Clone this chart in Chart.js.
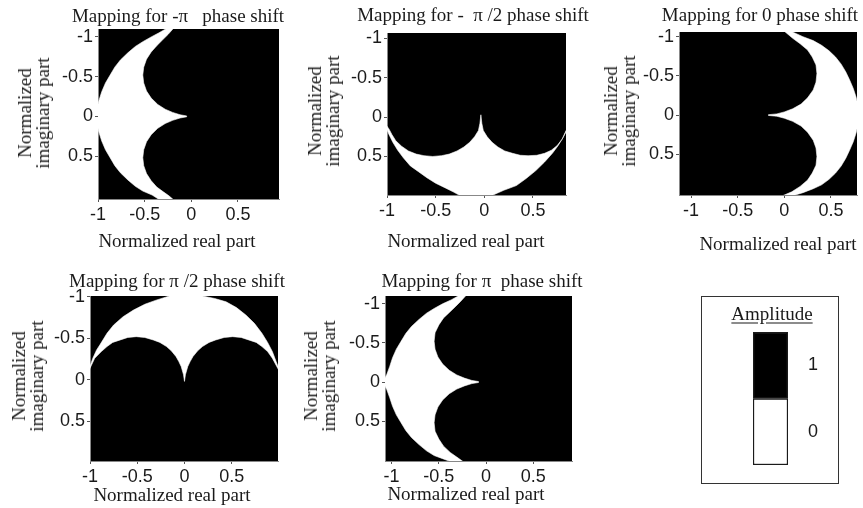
<!DOCTYPE html>
<html>
<head>
<meta charset="utf-8">
<title>Phase shift mappings</title>
<script src="https://cdn.jsdelivr.net/npm/chart.js@4.4.1/dist/chart.umd.min.js"></script>
<style>
  html, body { margin: 0; padding: 0; background: #ffffff; }
  body { position: relative; width: 863px; height: 508px; overflow: hidden;
         font-family: "Liberation Serif", "Times New Roman", serif; color: #1a1a1a; }
  .holder { position: absolute; }
  .holder canvas { display: block; }
  .label { position: absolute; white-space: pre; font-size: 19px; line-height: 19px;
           transform: translate(-50%, -50%); }
  .vlabel { position: absolute; white-space: pre; font-size: 19px; line-height: 18px;
            text-align: center; transform: translate(-50%, -50%) rotate(-90deg); }
  .keytitle { text-decoration: underline; text-underline-offset: 3px; }
  #keyBox { position: absolute; left: 701px; top: 296px; width: 138px; height: 188px;
            border: 1.5px solid #333; box-sizing: border-box; }
</style>
</head>
<body>
<div id="keyBox"></div>
<script>
// Tick marks shared by every panel
const tickValues = [-1, -0.5, 0, 0.5];
const tickLabels = ['-1', '-0.5', '0', '0.5'];

// Panel headings and axis titles
const panelTitles = [
  'Mapping for -\u03c0   phase shift',
  'Mapping for -  \u03c0 /2 phase shift',
  'Mapping for 0 phase shift',
  'Mapping for \u03c0 /2 phase shift',
  'Mapping for \u03c0  phase shift'
];
const xAxisTitle = 'Normalized real part';
const yAxisTitle = 'Normalized\nimaginary part';

// Amplitude key: levels from bottom to top
const amplitudeLevels = [0, 1];
const amplitudeColors = ['#ffffff', '#000000'];
const keyTitle = 'Amplitude';

// Outline of the amplitude-0 (white) region of each panel, as [real, imaginary]
const regionMinusPi = [
  [-0.26, -1.11], [-0.35, -1.05], [-0.43, -1.00], [-0.52, -0.94], [-0.60, -0.88],
  [-0.68, -0.80], [-0.76, -0.71], [-0.82, -0.62], [-0.87, -0.52], [-0.92, -0.42],
  [-0.96, -0.31], [-0.99, -0.20], [-1.01, -0.10], [-1.03, 0.00], [-1.01, 0.10],
  [-0.99, 0.20], [-0.96, 0.31], [-0.92, 0.42], [-0.87, 0.52], [-0.82, 0.62],
  [-0.76, 0.71], [-0.68, 0.80], [-0.60, 0.88], [-0.52, 0.94], [-0.42, 0.99],
  [-0.34, 1.05],
  [-0.19, 1.05], [-0.24, 1.00], [-0.30, 0.95], [-0.37, 0.89], [-0.43, 0.81],
  [-0.48, 0.72], [-0.51, 0.62], [-0.52, 0.52], [-0.51, 0.42], [-0.48, 0.32],
  [-0.43, 0.23], [-0.36, 0.15], [-0.28, 0.09], [-0.20, 0.05], [-0.12, 0.02],
  [-0.05, 0.006], [-0.05, -0.006], [-0.12, -0.02], [-0.20, -0.05], [-0.28, -0.09],
  [-0.36, -0.15], [-0.43, -0.23], [-0.48, -0.32], [-0.51, -0.42], [-0.52, -0.52],
  [-0.51, -0.62], [-0.48, -0.72], [-0.43, -0.81], [-0.37, -0.89], [-0.31, -0.96],
  [-0.25, -1.03], [-0.19, -1.11]
];

const regionMinusHalfPi = [
  [-1.02, 0.10], [-0.98, 0.22], [-0.94, 0.32], [-0.89, 0.42], [-0.83, 0.52],
  [-0.76, 0.62], [-0.68, 0.69], [-0.59, 0.77], [-0.50, 0.84], [-0.40, 0.90],
  [-0.32, 0.95], [-0.26, 0.99], [-0.10, 1.03], [0.09, 0.99], [0.20, 0.93],
  [0.33, 0.87], [0.43, 0.78], [0.53, 0.68], [0.62, 0.57], [0.70, 0.46],
  [0.76, 0.36], [0.81, 0.26], [0.86, 0.14],
  [0.86, 0.12], [0.83, 0.20], [0.80, 0.28], [0.75, 0.36], [0.69, 0.42],
  [0.62, 0.46], [0.54, 0.485], [0.45, 0.49], [0.37, 0.485], [0.29, 0.46],
  [0.21, 0.43], [0.14, 0.38], [0.08, 0.32], [0.03, 0.25], [-0.01, 0.17],
  [-0.025, 0.08], [-0.035, -0.03], [-0.045, 0.08], [-0.06, 0.17], [-0.10, 0.25],
  [-0.15, 0.32], [-0.21, 0.38], [-0.28, 0.43], [-0.36, 0.47], [-0.44, 0.49],
  [-0.53, 0.50], [-0.62, 0.49], [-0.70, 0.47], [-0.78, 0.43], [-0.85, 0.37],
  [-0.91, 0.30], [-0.95, 0.22], [-0.98, 0.15], [-1.02, 0.08]
];

const regionZero = [
  [0.07, -1.07], [0.20, -1.00], [0.31, -0.95], [0.40, -0.89], [0.48, -0.82],
  [0.55, -0.74], [0.61, -0.65], [0.66, -0.55], [0.70, -0.45], [0.74, -0.34],
  [0.77, -0.23], [0.79, -0.12], [0.81, 0.00], [0.79, 0.12], [0.77, 0.23],
  [0.74, 0.34], [0.70, 0.45], [0.66, 0.55], [0.61, 0.65], [0.55, 0.74],
  [0.48, 0.82], [0.40, 0.89], [0.31, 0.94], [0.20, 0.99], [0.09, 1.03],
  [-0.02, 1.03], [0.08, 0.98], [0.17, 0.91], [0.25, 0.83], [0.30, 0.74],
  [0.34, 0.64], [0.35, 0.53], [0.34, 0.42], [0.31, 0.32], [0.25, 0.22],
  [0.18, 0.14], [0.09, 0.08], [0.00, 0.04], [-0.08, 0.015], [-0.17, 0.005],
  [-0.17, -0.005], [-0.08, -0.015], [0.00, -0.04], [0.09, -0.08], [0.18, -0.14],
  [0.25, -0.22], [0.31, -0.32], [0.34, -0.42], [0.35, -0.53], [0.34, -0.64],
  [0.30, -0.74], [0.25, -0.83], [0.17, -0.91], [0.09, -0.98], [0.00, -1.07]
];

const regionHalfPi = [
  [-1.02, -0.10], [-0.97, -0.26], [-0.93, -0.36], [-0.89, -0.43], [-0.82, -0.56],
  [-0.75, -0.66], [-0.65, -0.76], [-0.54, -0.84], [-0.42, -0.91], [-0.30, -0.96],
  [-0.16, -1.01], [0.02, -1.05], [0.19, -1.01], [0.32, -0.98], [0.44, -0.94],
  [0.55, -0.87], [0.65, -0.78], [0.74, -0.68], [0.82, -0.56], [0.88, -0.45],
  [0.93, -0.34], [0.97, -0.22], [1.01, -0.10],
  [1.01, -0.09], [0.93, -0.26], [0.88, -0.34], [0.82, -0.40], [0.76, -0.45],
  [0.68, -0.48], [0.60, -0.51], [0.51, -0.52], [0.42, -0.51], [0.33, -0.48],
  [0.26, -0.45], [0.19, -0.40], [0.14, -0.35], [0.09, -0.28], [0.06, -0.22],
  [0.035, -0.16], [0.01, -0.06], [0.00, 0.02], [-0.01, -0.06], [-0.035, -0.16],
  [-0.06, -0.22], [-0.09, -0.28], [-0.14, -0.35], [-0.19, -0.40], [-0.26, -0.45],
  [-0.33, -0.48], [-0.42, -0.51], [-0.51, -0.52], [-0.60, -0.51], [-0.68, -0.48],
  [-0.76, -0.45], [-0.82, -0.40], [-0.88, -0.34], [-0.95, -0.26], [-1.02, -0.09]
];

const regionPi = [
  [-0.28, -1.11], [-0.37, -1.05], [-0.46, -1.00], [-0.55, -0.94], [-0.63, -0.88],
  [-0.71, -0.80], [-0.79, -0.71], [-0.85, -0.62], [-0.90, -0.52], [-0.95, -0.42],
  [-0.99, -0.31], [-1.02, -0.20], [-1.05, -0.10], [-1.09, 0.00], [-1.05, 0.10],
  [-1.02, 0.20], [-0.99, 0.31], [-0.95, 0.42], [-0.90, 0.52], [-0.85, 0.62],
  [-0.79, 0.71], [-0.71, 0.80], [-0.63, 0.88], [-0.55, 0.94], [-0.46, 0.98],
  [-0.37, 1.02],
  [-0.24, 1.02], [-0.31, 0.96], [-0.38, 0.90], [-0.45, 0.82], [-0.50, 0.73],
  [-0.54, 0.63], [-0.55, 0.52], [-0.54, 0.42], [-0.51, 0.32], [-0.46, 0.23],
  [-0.39, 0.15], [-0.31, 0.09], [-0.23, 0.05], [-0.15, 0.02], [-0.08, 0.006],
  [-0.08, -0.006], [-0.15, -0.02], [-0.23, -0.05], [-0.31, -0.09], [-0.39, -0.15],
  [-0.46, -0.23], [-0.51, -0.32], [-0.54, -0.42], [-0.55, -0.52], [-0.54, -0.63],
  [-0.50, -0.73], [-0.45, -0.82], [-0.38, -0.90], [-0.32, -0.97], [-0.27, -1.03],
  [-0.21, -1.11]
];

// Page placement of each panel: plot box [left, top, right, bottom] in px,
// visible axis ranges, and where the headings sit.
const panels = [
  { region: regionMinusPi, title: panelTitles[0], box: [98, 29, 279, 199],
    xRange: [-1, 0.94], yRange: [-1.1, 1.04],
    titleAt: [178, 15], xTitleAt: [177, 240], yTitleAt: [34, 113] },
  { region: regionMinusHalfPi, title: panelTitles[1], box: [387, 33, 566, 195],
    xRange: [-1, 0.84], yRange: [-1.07, 0.99],
    titleAt: [473, 14], xTitleAt: [466, 240], yTitleAt: [324, 111] },
  { region: regionZero, title: panelTitles[2], box: [679, 32, 857, 195],
    xRange: [-1.13, 0.78], yRange: [-1.06, 1.02],
    titleAt: [760, 14], xTitleAt: [778, 243], yTitleAt: [620, 111] },
  { region: regionHalfPi, title: panelTitles[3], box: [90, 296, 278, 461],
    xRange: [-1, 0.99], yRange: [-1.01, 0.98],
    titleAt: [177, 280], xTitleAt: [172, 494], yTitleAt: [28, 376] },
  { region: regionPi, title: panelTitles[4], box: [385, 296, 572, 461],
    xRange: [-1.07, 0.91], yRange: [-1.1, 1.01],
    titleAt: [482, 280], xTitleAt: [466, 493], yTitleAt: [320, 376] }
];

const PAD_L = 52, PAD_T = 14, PAD_R = 14, PAD_B = 32;
const tickFont = { family: '"Liberation Sans", Arial, sans-serif', size: 18 };

// Paints the plot box black (amplitude 1) before the white region is filled in
const darkField = {
  id: 'darkField',
  beforeDraw(chart) {
    const { ctx, chartArea: a } = chart;
    ctx.save();
    ctx.fillStyle = '#000000';
    ctx.fillRect(a.left, a.top, a.right - a.left, a.bottom - a.top);
    ctx.restore();
  }
};

function addText(cls, text, x, y) {
  const el = document.createElement('div');
  el.className = cls;
  el.textContent = text;
  el.style.left = x + 'px';
  el.style.top = y + 'px';
  document.body.appendChild(el);
  return el;
}

function makeCanvas(left, top, w, h) {
  const holder = document.createElement('div');
  holder.className = 'holder';
  holder.style.left = left + 'px';
  holder.style.top = top + 'px';
  const cv = document.createElement('canvas');
  cv.width = w; cv.height = h;
  cv.style.width = w + 'px'; cv.style.height = h + 'px';
  holder.appendChild(cv);
  document.body.appendChild(holder);
  return cv;
}

function axisOptions(range, reverse, fit) {
  return {
    type: 'linear',
    min: range[0], max: range[1], reverse,
    afterFit: fit,
    afterBuildTicks: s => { s.ticks = tickValues.map(v => ({ value: v })); },
    ticks: {
      autoSkip: false, maxRotation: 0, padding: 2, color: '#1a1a1a', font: tickFont,
      callback: v => tickLabels[tickValues.indexOf(v)]
    },
    grid: { drawOnChartArea: false, drawTicks: true, tickLength: 3, color: '#555555', lineWidth: 1 },
    border: { display: true, color: '#888888', width: 1 }
  };
}

panels.forEach(p => {
  const [L, T, R, B] = p.box;
  const w = R - L + PAD_L + PAD_R;
  const h = B - T + PAD_T + PAD_B;
  const cv = makeCanvas(L - PAD_L, T - PAD_T, w, h);
  new Chart(cv, {
    type: 'scatter',
    data: {
      datasets: [{
        data: p.region.map(([x, y]) => ({ x, y })),
        showLine: true,
        fill: 'shape',
        backgroundColor: '#ffffff',
        borderColor: '#ffffff',
        borderWidth: 0.6,
        pointRadius: 0,
        pointHoverRadius: 0,
        tension: 0
      }]
    },
    options: {
      responsive: false,
      devicePixelRatio: 1,
      animation: false,
      events: [],
      layout: { padding: { left: 0, top: PAD_T, right: PAD_R, bottom: 0 } },
      plugins: { legend: { display: false }, tooltip: { enabled: false } },
      scales: {
        x: axisOptions(p.xRange, false, s => { s.height = PAD_B; }),
        y: axisOptions(p.yRange, true, s => { s.width = PAD_L; })
      }
    },
    plugins: [darkField]
  });
  addText('label', p.title, p.titleAt[0], p.titleAt[1]);
  addText('label', xAxisTitle, p.xTitleAt[0], p.xTitleAt[1]);
  addText('vlabel', yAxisTitle, p.yTitleAt[0], p.yTitleAt[1]);
});

// Amplitude key: two stacked cells with their level written beside each
const keyBar = [753, 332, 788, 465];
const KEY_PAD = 40, KEY_AXIS = 40;
const keyCanvas = makeCanvas(keyBar[0], keyBar[1] - KEY_PAD,
  keyBar[2] - keyBar[0] + KEY_AXIS, keyBar[3] - keyBar[1] + 2 * KEY_PAD);
new Chart(keyCanvas, {
  type: 'bar',
  data: {
    labels: [keyTitle],
    datasets: amplitudeLevels.map((lvl, i) => ({
      label: String(lvl),
      data: [1],
      backgroundColor: amplitudeColors[i],
      borderColor: '#1a1a1a',
      borderWidth: 1.5,
      borderSkipped: false,
      barPercentage: 1,
      categoryPercentage: 1
    }))
  },
  options: {
    responsive: false,
    devicePixelRatio: 1,
    animation: false,
    events: [],
    layout: { padding: { left: 0, top: KEY_PAD, right: 0, bottom: KEY_PAD } },
    plugins: { legend: { display: false }, tooltip: { enabled: false } },
    scales: {
      x: { stacked: true, display: false },
      y: {
        stacked: true, min: 0, max: amplitudeLevels.length, position: 'right',
        afterFit: s => { s.width = KEY_AXIS; },
        afterBuildTicks: s => { s.ticks = amplitudeLevels.map((lvl, i) => ({ value: i + 0.5 })); },
        ticks: {
          padding: 20, color: '#1a1a1a', font: tickFont,
          callback: v => String(amplitudeLevels[Math.floor(v)])
        },
        grid: { display: false, drawTicks: false },
        border: { display: false }
      }
    }
  }
});
addText('label keytitle', keyTitle, 772, 313);
</script>
</body>
</html>
